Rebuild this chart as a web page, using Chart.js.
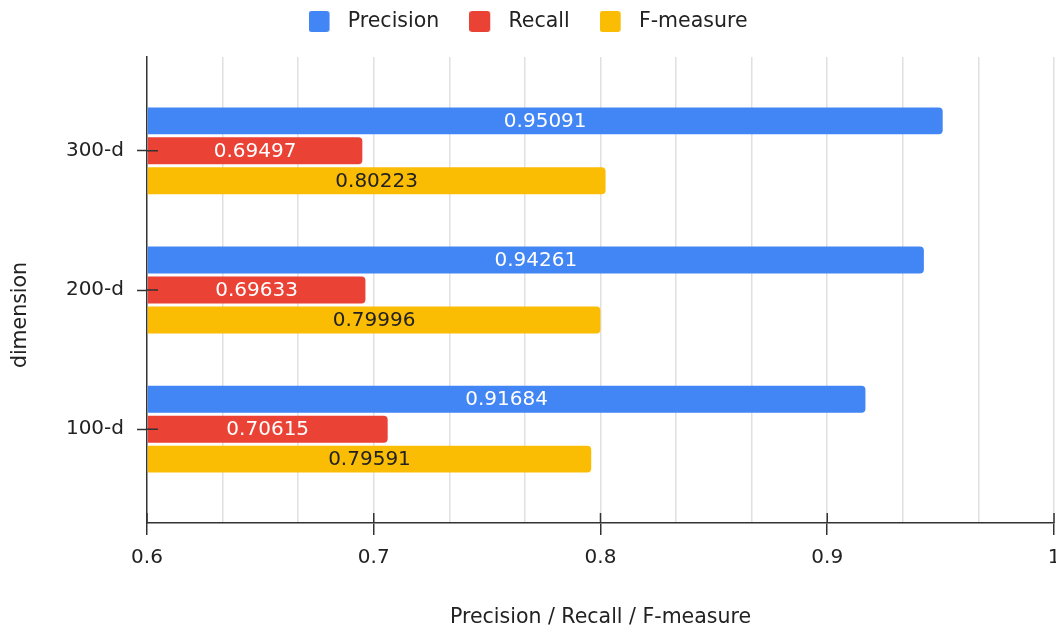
<!DOCTYPE html>
<html>
<head>
<meta charset="utf-8">
<title>Precision / Recall / F-measure by dimension</title>
<script src="https://cdn.jsdelivr.net/npm/chart.js@4/dist/chart.umd.min.js"></script>
<style>
  html, body { margin: 0; padding: 0; background: #ffffff; }
  canvas { display: block; }
</style>
</head>
<body>
<canvas id="chart" width="1056" height="630"></canvas>
<script>
// ---- data ----
const dimensions = ['300-d', '200-d', '100-d'];
const seriesNames = ['Precision', 'Recall', 'F-measure'];
const precision = [0.95091, 0.94261, 0.91684];
const recall = [0.69497, 0.69633, 0.70615];
const fMeasure = [0.80223, 0.79996, 0.79591];
const xAxisMin = 0.6;
const xAxisMax = 1;
const xTickLabels = ['0.6', '0.7', '0.8', '0.9', '1'];
const xAxisTitle = 'Precision / Recall / F-measure';
const yAxisTitle = 'dimension';

// ---- styles ----
const seriesColors = ['#4285F4', '#EA4335', '#FBBC04'];
const valueLabelColors = ['#ffffff', '#ffffff', '#222222'];
const FONT_FAMILY = "'DejaVu Sans', sans-serif";
const INK = '#222222';
const AXIS_INK = '#333333';
const GRID_INK = '#e0e0e0';
const MINOR_PER_LABEL = 3; // light gridlines between labelled ticks

const seriesValues = [precision, recall, fMeasure];

// Rounded square legend swatch
function legendSwatch(color) {
  const c = document.createElement('canvas');
  c.width = 29; c.height = 21;
  const g = c.getContext('2d');
  const x = 0, y = 0, w = 21, h = 21, r = 3;
  g.fillStyle = color;
  g.beginPath();
  g.moveTo(x + r, y);
  g.lineTo(x + w - r, y); g.arcTo(x + w, y, x + w, y + r, r);
  g.lineTo(x + w, y + h - r); g.arcTo(x + w, y + h, x + w - r, y + h, r);
  g.lineTo(x + r, y + h); g.arcTo(x, y + h, x, y + h - r, r);
  g.lineTo(x, y + r); g.arcTo(x, y, x + r, y, r);
  g.closePath();
  g.fill();
  return c;
}

// Extra room between the legend and the plot
const legendSpacing = {
  id: 'legendSpacing',
  beforeInit(chart) {
    const fit = chart.legend.fit;
    chart.legend.fit = function () {
      fit.call(this);
      this.height += 15.25;
    };
  }
};

// Vertical axis title, centred on the full canvas height
const verticalAxisTitle = {
  id: 'verticalAxisTitle',
  afterDraw(chart) {
    const ctx = chart.ctx;
    ctx.save();
    ctx.translate(20.5, chart.height / 2);
    ctx.rotate(-Math.PI / 2);
    ctx.font = '20.5px ' + FONT_FAMILY;
    ctx.fillStyle = INK;
    ctx.textAlign = 'center';
    ctx.textBaseline = 'middle';
    ctx.fillText(yAxisTitle, 0, 0);
    ctx.restore();
  }
};

// Value written in the middle of each bar
const barValueLabels = {
  id: 'barValueLabels',
  afterDatasetsDraw(chart) {
    const ctx = chart.ctx;
    ctx.save();
    ctx.font = '20px ' + FONT_FAMILY;
    ctx.textAlign = 'center';
    ctx.textBaseline = 'middle';
    chart.data.datasets.forEach((ds, di) => {
      const meta = chart.getDatasetMeta(di);
      if (meta.hidden) return;
      meta.data.forEach((bar, i) => {
        const p = bar.getProps(['x', 'y', 'base'], true);
        ctx.fillStyle = valueLabelColors[di];
        ctx.fillText(String(seriesValues[di][i]), (p.x + p.base) / 2, p.y + 1);
      });
    });
    ctx.restore();
  }
};

// Tick marks continue a little inside the plot, crossing the axis lines
const crossingTicks = {
  id: 'crossingTicks',
  afterDatasetsDraw(chart) {
    const { ctx, chartArea, scales } = chart;
    ctx.save();
    ctx.strokeStyle = AXIS_INK;
    ctx.lineWidth = 1.5;
    ctx.beginPath();
    scales.y.ticks.forEach((t, i) => {
      const py = scales.y.getPixelForTick(i);
      ctx.moveTo(chartArea.left, py);
      ctx.lineTo(chartArea.left + 11, py);
    });
    scales.x.ticks.forEach((t, i) => {
      if (i % MINOR_PER_LABEL) return;
      const px = scales.x.getPixelForTick(i);
      ctx.moveTo(px, chartArea.bottom);
      ctx.lineTo(px, chartArea.bottom - 10);
    });
    ctx.stroke();
    ctx.restore();
  }
};

const datasets = seriesNames.map((name, si) => ({
  label: name,
  data: seriesValues[si].map((v, i) => ({ x: v, y: i })),
  backgroundColor: seriesColors[si],
  base: xAxisMin,
  borderRadius: 4,
  borderSkipped: 'start',
  categoryPercentage: 0.645,
  barPercentage: 0.9
}));

const font20 = { family: FONT_FAMILY, size: 20 };
const font205 = { family: FONT_FAMILY, size: 20.5 };
const bandPad = 0.674; // empty space above the first and below the last group, in bands

new Chart(document.getElementById('chart'), {
  type: 'bar',
  data: { datasets },
  options: {
    indexAxis: 'y',
    responsive: false,
    devicePixelRatio: 1,
    animation: false,
    events: [],
    layout: { padding: { top: -18.75, left: 0, right: 0, bottom: 0 } },
    plugins: {
      tooltip: { enabled: false },
      legend: {
        position: 'top',
        align: 'center',
        labels: {
          color: INK,
          font: font205,
          padding: 30,
          usePointStyle: true,
          pointStyleWidth: 29,
          generateLabels(chart) {
            const items = Chart.defaults.plugins.legend.labels.generateLabels(chart);
            items.forEach(it => { it.pointStyle = legendSwatch(seriesColors[it.datasetIndex]); });
            return items;
          }
        }
      }
    },
    scales: {
      x: {
        type: 'linear',
        position: 'bottom',
        min: xAxisMin,
        max: xAxisMax,
        afterBuildTicks(scale) {
          const n = (xTickLabels.length - 1) * MINOR_PER_LABEL;
          const ticks = [];
          for (let i = 0; i <= n; i++) ticks.push({ value: xAxisMin + (xAxisMax - xAxisMin) * i / n });
          scale.ticks = ticks;
        },
        ticks: {
          autoSkip: false,
          maxRotation: 0,
          padding: 11,
          color: INK,
          font: font20,
          callback(value, index) {
            return index % MINOR_PER_LABEL === 0 ? xTickLabels[index / MINOR_PER_LABEL] : '';
          }
        },
        grid: {
          color: c => (c.index === 0 ? 'rgba(0,0,0,0)' : GRID_INK),
          lineWidth: 1.5,
          tickLength: 12,
          tickWidth: 1.5,
          tickColor: c => (c.index % MINOR_PER_LABEL === 0 ? AXIS_INK : 'rgba(0,0,0,0)')
        },
        border: { display: true, color: AXIS_INK, width: 1.5 },
        title: {
          display: true,
          text: xAxisTitle,
          color: INK,
          font: font205,
          padding: { top: 0, bottom: 0 }
        },
        afterFit(scale) {
          scale.height = 107;
          scale.paddingLeft = 0;
          scale.paddingRight = 2;
        }
      },
      y: {
        type: 'linear',
        position: 'left',
        reverse: true,
        offset: false,
        min: -bandPad,
        max: dimensions.length - 1 + bandPad,
        afterBuildTicks(scale) {
          scale.ticks = dimensions.map((d, i) => ({ value: i }));
        },
        ticks: {
          autoSkip: false,
          padding: 13,
          color: INK,
          font: font20,
          callback: v => (dimensions[v] !== undefined ? dimensions[v] : '')
        },
        grid: {
          offset: false,
          drawOnChartArea: false,
          tickLength: 10,
          tickWidth: 1.5,
          tickColor: AXIS_INK
        },
        border: { display: true, color: AXIS_INK, width: 1.5 },
        title: { display: false },
        afterFit(scale) {
          scale.width = 147;
        }
      }
    }
  },
  plugins: [legendSpacing, crossingTicks, barValueLabels, verticalAxisTitle]
});
</script>
</body>
</html>
